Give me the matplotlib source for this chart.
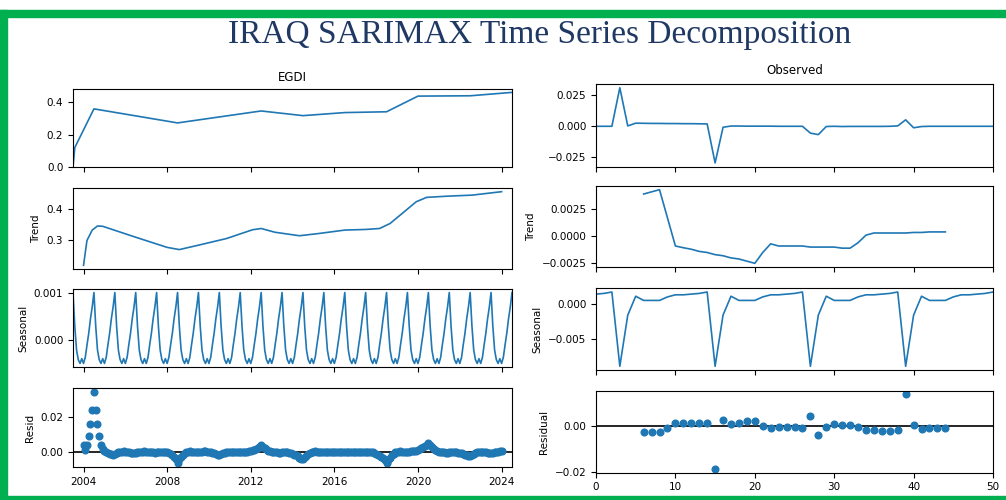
import numpy as np
import pandas as pd
import matplotlib
matplotlib.use('Agg')
import matplotlib.pyplot as plt
import matplotlib.dates as mdates
from matplotlib.patches import Rectangle

plt.rcParams['font.family'] = ['DejaVu Sans']
plt.rcParams['font.size'] = 7.5
blue = '#1f77b4'

# ---- EGDI (left): monthly index, piecewise observed series ----
egdi_dates = ['2003-07', '2003-08', '2004-07', '2008-07', '2012-07', '2014-07',
              '2016-07', '2018-07', '2020-01', '2022-07', '2024-07']
egdi_vals = [0.0, 0.12, 0.36, 0.273, 0.347, 0.318, 0.337, 0.342, 0.439, 0.441, 0.462]

trend_dates = ['2004-01', '2004-03', '2004-06', '2004-09', '2004-12', '2006-06', '2008-01',
               '2008-08', '2009-07', '2010-11', '2012-02', '2012-07', '2013-03', '2014-05',
               '2015-04', '2016-07', '2017-07', '2018-03', '2018-09', '2019-04', '2019-12',
               '2020-06', '2021-07', '2022-08', '2024-01']
trend_vals = [0.221, 0.300, 0.333, 0.346, 0.345, 0.312, 0.278,
              0.271, 0.285, 0.306, 0.334, 0.338, 0.326, 0.315,
              0.322, 0.333, 0.335, 0.338, 0.354, 0.386, 0.423,
              0.437, 0.441, 0.444, 0.455]

# seasonal effect Jul..Jun, repeated every year
seas_month = [0.00100, 0.00030, -0.00020, -0.00040, -0.00048, -0.00038,
              -0.00048, -0.00035, -0.00010, 0.00015, 0.00045, 0.00070]

# residuals Jan..Dec per year, 2004-01 .. 2024-01
resid_rows = [
    [0.0040, 0.0010, 0.0040, 0.0087, 0.0160, 0.0240, 0.0345, 0.0240, 0.0160, 0.0087, 0.0040, 0.0012],
    [0.0002, -0.0004, -0.0008, -0.0012, -0.0016, -0.0019, -0.0014, -0.0009, -0.0005, -0.0002, 0.0000, 0.0001],
    [0.0000, -0.0002, -0.0004, -0.0006, -0.0008, -0.0010, -0.0008, -0.0005, -0.0003, -0.0001, 0.0000, 0.0001],
    [0.0000, -0.0001, -0.0003, -0.0004, -0.0005, -0.0006, -0.0005, -0.0004, -0.0003, -0.0002, -0.0002, -0.0003],
    [-0.0005, -0.0008, -0.0013, -0.0020, -0.0030, -0.0045, -0.0064, -0.0045, -0.0030, -0.0018, -0.0009, -0.0003],
    [0.0000, 0.0001, 0.0000, -0.0001, -0.0002, -0.0003, -0.0002, -0.0001, 0.0000, 0.0001, 0.0001, 0.0000],
    [-0.0002, -0.0004, -0.0007, -0.0010, -0.0014, -0.0017, -0.0020, -0.0015, -0.0010, -0.0006, -0.0003, -0.0001],
    [0.0000, -0.0001, -0.0002, -0.0003, -0.0004, -0.0005, -0.0004, -0.0003, -0.0002, -0.0001, 0.0000, 0.0002],
    [0.0004, 0.0007, 0.0011, 0.0016, 0.0022, 0.0028, 0.0035, 0.0027, 0.0019, 0.0012, 0.0006, 0.0002],
    [-0.0001, -0.0003, -0.0004, -0.0005, -0.0006, -0.0006, -0.0005, -0.0004, -0.0004, -0.0005, -0.0007, -0.0010],
    [-0.0013, -0.0017, -0.0022, -0.0028, -0.0035, -0.0040, -0.0045, -0.0034, -0.0024, -0.0015, -0.0008, -0.0003],
    [0.0000, 0.0001, 0.0000, -0.0001, -0.0002, -0.0002, -0.0001, 0.0000, 0.0000, -0.0001, -0.0001, 0.0000],
    [0.0000, -0.0001, -0.0002, -0.0003, -0.0003, -0.0004, -0.0003, -0.0002, -0.0001, 0.0000, 0.0000, -0.0001],
    [-0.0001, 0.0000, 0.0000, -0.0001, -0.0001, -0.0002, -0.0001, -0.0001, -0.0002, -0.0003, -0.0005, -0.0008],
    [-0.0012, -0.0017, -0.0023, -0.0030, -0.0039, -0.0050, -0.0068, -0.0050, -0.0035, -0.0022, -0.0012, -0.0005],
    [-0.0001, 0.0000, 0.0001, 0.0000, -0.0001, -0.0002, -0.0001, 0.0000, 0.0001, 0.0002, 0.0004, 0.0006],
    [0.0009, 0.0013, 0.0018, 0.0024, 0.0031, 0.0040, 0.0050, 0.0038, 0.0027, 0.0017, 0.0009, 0.0003],
    [-0.0001, -0.0003, -0.0004, -0.0005, -0.0006, -0.0006, -0.0005, -0.0004, -0.0003, -0.0003, -0.0004, -0.0006],
    [-0.0008, -0.0011, -0.0014, -0.0017, -0.0020, -0.0023, -0.0025, -0.0019, -0.0013, -0.0008, -0.0004, -0.0002],
    [0.0000, -0.0001, -0.0003, -0.0005, -0.0007, -0.0009, -0.0010, -0.0007, -0.0004, -0.0002, 0.0000, 0.0002],
    [0.0004],
]

# ---- SARIMAX (right): integer steps 0..50 ----
obs_vals = [0.0, 0.0, 0.0, 0.031, 0.0003, 0.0025, 0.0024, 0.0023, 0.0023, 0.0022,
            0.0022, 0.0021, 0.0021, 0.0020, 0.0019, -0.0295, -0.0008, 0.0002, 0.0002, 0.0001,
            0.0001, 0.0001, 0.0001, 0.0, 0.0, 0.0, 0.0, -0.0055, -0.0067, -0.0002,
            0.0, -0.0002, -0.0001, -0.0001, -0.0001, -0.0001, -0.0001, 0.0, 0.0003, 0.0052,
            -0.0012, -0.0002, 0.0, 0.0, 0.0, 0.0, 0.0, 0.0, 0.0, 0.0, 0.0]

sar_trend = [0.0039, 0.0041, 0.0043, 0.0017, -0.0009, -0.00106, -0.0012, -0.0014, -0.0015, -0.0017,
             -0.0018, -0.0020, -0.0021, -0.0023, -0.0025, -0.0015, -0.0007, -0.0009, -0.0009, -0.0009,
             -0.0009, -0.0010, -0.0010, -0.0010, -0.0010, -0.0011, -0.0011, -0.0006, 0.0001, 0.0003,
             0.0003, 0.0003, 0.0003, 0.0003, 0.00035, 0.00035, 0.0004, 0.0004, 0.0004]

sar_seas_cycle = [0.0014, 0.0015, 0.0017, -0.0089, -0.0016, 0.0011,
                  0.0005, 0.0005, 0.0005, 0.0010, 0.0013, 0.0013]

sar_resid = [-0.0027, -0.0027, -0.0027, -0.0010, 0.0012, 0.0014, 0.0015, 0.0015, 0.0015, -0.0188,
             0.0026, 0.0007, 0.0015, 0.0020, 0.0020, 0.0001, -0.0007, -0.0004, -0.0004, -0.0004,
             -0.0009, 0.0045, -0.0039, -0.0004, 0.0007, 0.0004, 0.0004, -0.0006, -0.0017, -0.0017,
             -0.0020, -0.0020, -0.0017, 0.0138, 0.0004, -0.0013, -0.0010, -0.0010, -0.0010]

# build series
month_idx = pd.date_range('2003-07-01', '2024-07-01', freq='MS')
seas_left = np.tile(seas_month, len(month_idx) // 12 + 1)[:len(month_idx)]
resid_left = np.concatenate([np.array(r) for r in resid_rows])
resid_idx = pd.date_range('2004-01-01', periods=len(resid_left), freq='MS')
egdi_idx = pd.to_datetime(egdi_dates)
trend_idx = pd.to_datetime(trend_dates)

steps = np.arange(len(obs_vals))
trend_steps = np.arange(6, 6 + len(sar_trend))
resid_steps = np.arange(6, 6 + len(sar_resid))
seas_right = np.tile(sar_seas_cycle, len(steps) // 12 + 1)[:len(steps)]

fig = plt.figure(figsize=(10.06, 5.0), dpi=100)
W, H = 1006.0, 500.0


def make_ax(x0, x1, y0, y1):
    return fig.add_axes([x0 / W, 1 - y1 / H, (x1 - x0) / W, (y1 - y0) / H])


# left column
L0, L1 = 73, 512
ax1 = make_ax(L0, L1, 89, 167)
ax2 = make_ax(L0, L1, 188, 269)
ax3 = make_ax(L0, L1, 289, 367)
ax4 = make_ax(L0, L1, 388, 467)

ax1.plot(egdi_idx, egdi_vals, color=blue, lw=1.2)
ax1.set_title('EGDI', fontsize=8.5, pad=6)
ax1.set_ylim(0, 0.483)
ax1.set_yticks([0.0, 0.2, 0.4])

ax2.plot(trend_idx, trend_vals, color=blue, lw=1.2)
ax2.set_ylabel('Trend')

ax3.plot(month_idx, seas_left, color=blue, lw=1.2)
ax3.set_ylabel('Seasonal')
ax3.set_yticks([0.0, 0.001])
ax3.yaxis.set_major_formatter(matplotlib.ticker.FormatStrFormatter('%.3f'))

ax4.plot(resid_idx, resid_left, marker='o', ls='none', ms=4.8, color=blue)
ax4.axhline(0, color='black', lw=1.2, zorder=-3)
ax4.set_ylabel('Resid')
ax4.set_yticks([0.0, 0.02])
ax4.yaxis.set_major_formatter(matplotlib.ticker.FormatStrFormatter('%.2f'))

for ax in (ax1, ax2, ax3, ax4):
    ax.set_xlim(month_idx[0], month_idx[-1])
    ax.xaxis.set_major_locator(mdates.YearLocator(4))
    ax.xaxis.set_major_formatter(mdates.DateFormatter('%Y'))
for ax in (ax1, ax2, ax3):
    ax.tick_params(labelbottom=False)

# right column
R0, R1 = 596, 993
bx1 = make_ax(R0, R1, 84, 166.7)
bx2 = make_ax(R0, R1, 186, 267)
bx3 = make_ax(R0, R1, 288.3, 370)
bx4 = make_ax(R0, R1, 390.7, 472.7)

bx1.plot(steps, obs_vals, color=blue, lw=1.2)
bx1.set_title('Observed', fontsize=8.5, pad=7)

bx2.plot(trend_steps, sar_trend, color=blue, lw=1.2)
bx2.set_ylabel('Trend')

bx3.plot(steps, seas_right, color=blue, lw=1.2)
bx3.set_ylabel('Seasonal')

bx4.plot(resid_steps, sar_resid, marker='o', ls='none', ms=4.8, color=blue)
bx4.axhline(0, color='black', lw=1.2, zorder=-3)
bx4.set_ylabel('Residual')

for ax in (bx1, bx2, bx3, bx4):
    ax.set_xlim(0, 50)
    ax.set_xticks(range(0, 51, 10))
for ax in (bx1, bx2, bx3):
    ax.tick_params(labelbottom=False)

# title and green frame
fig.text(0.536, 0.93, 'IRAQ SARIMAX Time Series Decomposition', ha='center', va='center',
         fontsize=24, family='Liberation Serif', color='#1f3864')
green = '#00b050'
fig.patches.append(Rectangle((0, 1 - 17 / H), 1, 7 / H, transform=fig.transFigure, color=green, zorder=5))
fig.patches.append(Rectangle((0, 0), 7 / W, 1 - 10 / H, transform=fig.transFigure, color=green, zorder=5))
fig.patches.append(Rectangle((0, 0), 1, 4 / H, transform=fig.transFigure, color=green, zorder=5))

fig.savefig('out.png', dpi=100)
